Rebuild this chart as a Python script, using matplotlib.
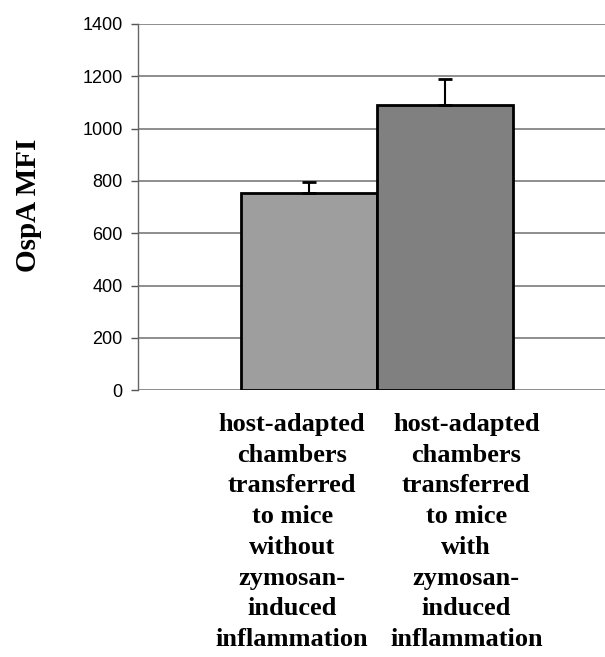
import numpy as np
import matplotlib
matplotlib.use("Agg")
import matplotlib.pyplot as plt
from matplotlib import font_manager

categories = ["host-adapted\nchambers\ntransferred\nto mice\nwithout\nzymosan-\ninduced\ninflammation",
              "host-adapted\nchambers\ntransferred\nto mice\nwith\nzymosan-\ninduced\ninflammation"]
values = [755, 1090]
errors = [40, 100]
colors = ["#9e9e9e", "#808080"]
yticks = [0, 200, 400, 600, 800, 1000, 1200, 1400]

names = {f.name for f in font_manager.fontManager.ttflist}
tick_font = "Liberation Sans Narrow" if "Liberation Sans Narrow" in names else "Liberation Sans"

fig = plt.figure(figsize=(6.05, 6.57), dpi=100)
ax = fig.add_axes([0.228, 0.406, 0.772, 0.5575])

x = np.arange(len(values))
ax.bar(x, values, width=1.0, color=colors, edgecolor="black", linewidth=2, zorder=3)
ax.errorbar(x, values, yerr=[[0, 0], errors], fmt="none", ecolor="black",
            elinewidth=1.5, capsize=5, capthick=2, zorder=4)

ax.set_xlim(-1.257, 2.176)
ax.set_ylim(0, 1400)
ax.set_yticks(yticks)
ax.set_yticklabels([str(t) for t in yticks], fontfamily=tick_font, fontsize=13)
ax.yaxis.grid(True, color="#7a7a7a", linewidth=1.2, zorder=0)
ax.tick_params(axis="y", length=5, width=1, color="#555555", pad=6)
ax.set_xticks([])

for s in ["top", "right", "bottom"]:
    ax.spines[s].set_visible(False)
ax.spines["left"].set_color("#666666")
ax.spines["left"].set_linewidth(1)

# category labels sit a little off the bar centres
label_x = [0.33, 0.703]
for lx, label in zip(label_x, categories):
    ax.text(lx, -0.062, label, ha="center", va="top", fontfamily="Liberation Serif",
            fontweight="bold", fontsize=19, linespacing=1.43,
            transform=ax.transAxes)

fig.text(0.047, 1 - 205 / 657, "OspA MFI", rotation=90, ha="center", va="center",
         fontfamily="Liberation Serif", fontweight="bold", fontsize=21)

fig.savefig("out.png", dpi=100)
